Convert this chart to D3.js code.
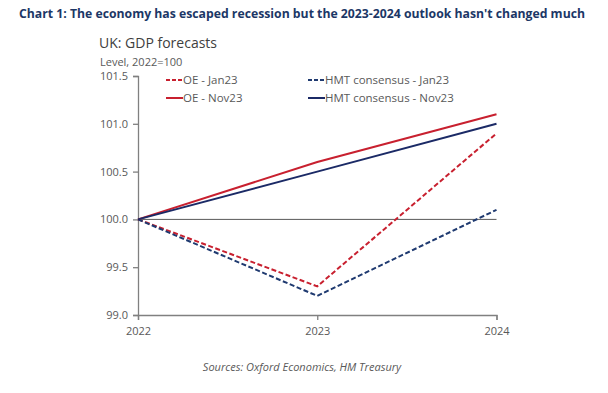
<!DOCTYPE html>
<html><head><meta charset="utf-8">
<script src="https://cdn.jsdelivr.net/npm/d3@7"></script>
<style>body{margin:0;background:#fff}svg{display:block}</style>
</head><body><svg id="c" width="608" height="393"></svg>
<script>
const years = [2022, 2023, 2024];
const oeJan23 = [100, 99.3, 100.9];
const hmtJan23 = [100, 99.2, 100.1];
const oeNov23 = [100, 100.6, 101.1];
const hmtNov23 = [100, 100.5, 101.0];
const yTicks = [99.0, 99.5, 100.0, 100.5, 101.0, 101.5];
const seriesNames = ["OE - Jan23", "HMT consensus - Jan23", "OE - Nov23", "HMT consensus - Nov23"];

const red = "#c8202f", navy = "#1b2a66", navyDash = "#1f3a70";
const series = [
  {name: seriesNames[0], values: oeJan23, color: red, dash: "5,2.5"},
  {name: seriesNames[1], values: hmtJan23, color: navyDash, dash: "5,2.5"},
  {name: seriesNames[2], values: oeNov23, color: red, dash: null},
  {name: seriesNames[3], values: hmtNov23, color: navy, dash: null}
];

const svg = d3.select("#c");
const font = "'Open Sans', 'Noto Sans', sans-serif";
const x = d3.scalePoint().domain(years).range([138, 496.5]);
const y = d3.scaleLinear().domain([99, 101.5]).range([315, 76]);

svg.append("text").attr("x", 19).attr("y", 18).attr("font-family", font)
  .attr("font-weight", "bold").attr("font-size", 12.6).attr("fill", "#1c3766")
  .attr("textLength", 566).attr("lengthAdjust", "spacingAndGlyphs")
  .text("Chart 1: The economy has escaped recession but the 2023-2024 outlook hasn't changed much");
svg.append("text").attr("x", 99).attr("y", 48).attr("font-family", font)
  .attr("font-size", 14).attr("fill", "#404040").text("UK: GDP forecasts");
svg.append("text").attr("x", 100).attr("y", 66).attr("font-family", font)
  .attr("font-size", 11).attr("fill", "#595959").text("Level, 2022=100");

// reference line at 100
svg.append("line").attr("x1", x(2022)).attr("x2", x(2024)).attr("y1", y(100)).attr("y2", y(100))
  .attr("stroke", "#595959").attr("stroke-width", 1);

const yAxis = svg.append("g").attr("transform", `translate(${x(2022)},0)`)
  .call(d3.axisLeft(y).tickValues(yTicks).tickFormat(d3.format(".1f")).tickSize(5).tickPadding(5));
const xAxis = svg.append("g").attr("transform", `translate(0,${y(99)})`)
  .call(d3.axisBottom(x).tickValues(years).tickSize(5).tickPadding(7));
[yAxis, xAxis].forEach(a => {
  a.selectAll("path,line").attr("stroke", "#808080").attr("stroke-width", 1.3);
  a.selectAll("text").attr("font-family", font).attr("font-size", 11).attr("fill", "#595959");
});

const line = d3.line().x((d, i) => x(years[i])).y(d => y(d));
series.forEach(s => {
  svg.append("path").datum(s.values).attr("d", line).attr("fill", "none")
    .attr("stroke", s.color).attr("stroke-width", 2)
    .attr("stroke-dasharray", s.dash);
});

// legend
const legPos = [[166, 80], [308, 80], [166, 98], [308, 98]];
series.forEach((s, i) => {
  const [lx, ly] = legPos[i];
  svg.append("line").attr("x1", lx).attr("x2", lx + 17).attr("y1", ly).attr("y2", ly)
    .attr("stroke", s.color).attr("stroke-width", 2).attr("stroke-dasharray", s.dash ? "4,2" : null);
  svg.append("text").attr("x", lx + 17).attr("y", ly + 4).attr("font-family", font)
    .attr("font-size", 11.5).attr("fill", "#595959").text(s.name);
});

svg.append("text").attr("x", 302).attr("y", 371).attr("text-anchor", "middle")
  .attr("font-family", font).attr("font-style", "italic").attr("font-size", 11)
  .attr("fill", "#595959").text("Sources: Oxford Economics, HM Treasury");
</script></body></html>
